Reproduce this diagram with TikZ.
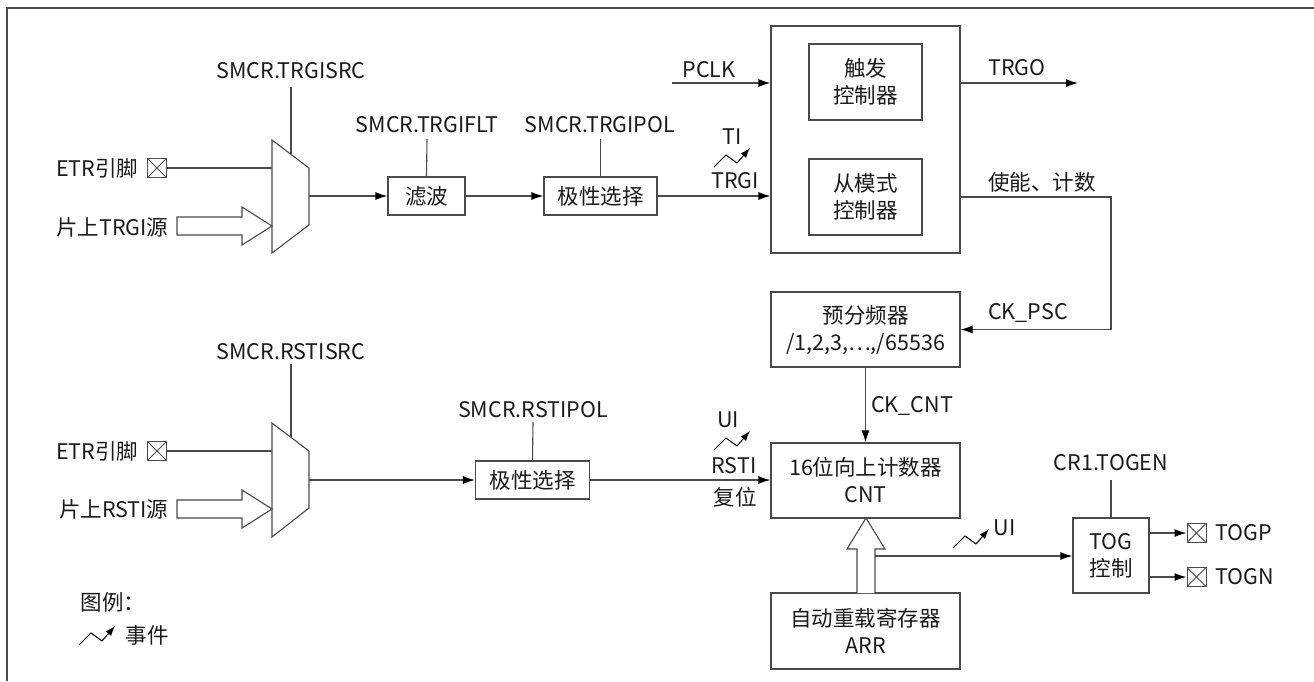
\documentclass[tikz,border=0pt]{standalone}
\usepackage{fontspec}
\setmainfont{Noto Sans CJK SC}
\usetikzlibrary{arrows.meta}
\definecolor{ln}{HTML}{4A4A4A}
\definecolor{tx}{HTML}{1A1A1A}
\begin{document}
\begin{tikzpicture}[x=1pt,y=-1pt,line width=1.1pt,
  every node/.style={font=\fontsize{21.5}{27}\selectfont,inner sep=0pt,text=tx},
  box/.style={draw=ln,line width=1.1pt,align=center},
  wire/.style={draw=ln,line width=1.1pt},
  arr/.style={wire,-{Latex[length=12pt,width=8pt,color=black]}},
  xbox/.style={draw=ln,line width=1pt,minimum width=19pt,minimum height=19pt,
    path picture={\draw[ln,line width=0.9pt] (path picture bounding box.north west)--(path picture bounding box.south east)
      (path picture bounding box.north east)--(path picture bounding box.south west);}},
  evt/.pic={\draw[black,line width=1pt] (0,0)--(12,-12)--(23,-4);
    \draw[black,line width=1pt,-{Latex[length=10pt,width=7pt]}] (23,-4)--(36,-19);}
]
\useasboundingbox (0,0) rectangle (1314,681);
% frame
\draw[ln,line width=1.3pt] (7,681)--(7,8)--(1314,8);

% ---------- top mux ----------
\coordinate (m1a) at (272,140); \coordinate (m1b) at (309,168);
\coordinate (m1c) at (309,225); \coordinate (m1d) at (272,253);
\draw[wire] (m1a)--(m1b)--(m1c)--(m1d)--cycle;
\coordinate (m1out) at (309,196);
\node (trgisrc) at (291,71) {SMCR.TRGISRC};
\coordinate (trgisrcE) at (291,154.4);
\draw[wire] (291,87)--(trgisrcE);

\node[anchor=east] (etr1) at (139,168) {ETR引脚};
\node[xbox] (x1) at (157,168) {};
\draw[wire] (x1.east)--(272,168);
\node[anchor=east] (src1) at (169,227) {片上TRGI源};
\draw[wire,fill=white] (177,217)--(242,217)--(242,207)--(272,226)--(242,245)--(242,235)--(177,235)--cycle;

% filter & polarity
\node[box,minimum width=77pt,minimum height=38pt] (flt) at (426.5,196) {滤波};
\node (trgiflt) at (427,125) {SMCR.TRGIFLT};
\draw[wire] (427,139)--(flt.north);
\node[box,minimum width=113pt,minimum height=38pt] (pol1) at (600.5,196) {极性选择};
\node (trgipol) at (600,125) {SMCR.TRGIPOL};
\draw[wire] (600.5,139)--(pol1.north);
\draw[arr] (m1out)--(flt.west);
\draw[arr] (flt.east)--(pol1.west);

% big block
\node[box,minimum width=189pt,minimum height=227pt] (big) at (865.5,139.5) {};
\node[box,minimum width=113pt,minimum height=76pt] (trg) at (865.5,82) {触发\\控制器};
\node[box,minimum width=113pt,minimum height=76pt] (slv) at (865.5,197) {从模式\\控制器};
\draw[arr] (pol1.east)--(pol1.east -| big.west);
\node (ti) at (732,137) {TI};
\node (trgi) at (735,181) {TRGI};
\pic at (714,167) {evt};
\coordinate (pclk0) at (672,83);
\draw[arr] (pclk0)--(pclk0 -| big.west);
\node (pclk) at (709,70) {PCLK};
\coordinate (trgo1) at (1078,83);
\draw[arr] (trgo1 -| big.east)--(trgo1);
\node (trgo) at (1017,68) {TRGO};

% prescaler
\node[box,minimum width=189pt,minimum height=75pt] (psc) at (865.5,329.5) {预分频器\\/1,2,3,…,/65536};
\coordinate (en0) at (960,197);
\coordinate (en1) at (1111,197);
\draw[arr] (en0)--(en1)--(en1 |- psc.east)--(psc.east);
\node (en) at (1042,182) {使能、计数};
\node (ckpsc) at (1028,313) {CK\_PSC};

% counter
\node[box,minimum width=189pt,minimum height=75pt] (cnt) at (865.5,480.5) {16位向上计数器\\CNT};
\draw[arr] (psc.south)--(cnt.north);
\node (ckcnt) at (912,406) {CK\_CNT};

% ---------- bottom mux ----------
\coordinate (m2a) at (272,423); \coordinate (m2b) at (309,451);
\coordinate (m2c) at (309,508); \coordinate (m2d) at (272,537);
\draw[wire] (m2a)--(m2b)--(m2c)--(m2d)--cycle;
\coordinate (m2out) at (309,480);
\node (rstisrc) at (291,352) {SMCR.RSTISRC};
\draw[wire] (291,364)--(291,437.4);
\node[anchor=east] (etr2) at (139,451) {ETR引脚};
\node[xbox] (x2) at (157,451) {};
\draw[wire] (x2.east)--(272,451);
\node[anchor=east] (src2) at (169,509) {片上RSTI源};
\draw[wire,fill=white] (177,500)--(242,500)--(242,490)--(272,509)--(242,528)--(242,518)--(177,518)--cycle;

\node[box,minimum width=114pt,minimum height=38pt] (pol2) at (532.5,480) {极性选择};
\node (rstipol) at (533,410) {SMCR.RSTIPOL};
\draw[wire] (533,422)--(pol2.north);
\draw[arr] (m2out)--(pol2.west);
\draw[arr] (pol2.east)--(pol2.east -| cnt.west);
\node (ui1) at (728,420) {UI};
\pic at (714,450) {evt};
\node (rsti) at (734,466) {RSTI};
\node (fw) at (735,497) {复位};

% ARR
\node[box,minimum width=189pt,minimum height=76pt] (arrb) at (865.5,631) {自动重载寄存器\\ARR};
\draw[wire,fill=white] (857,593)--(857,549)--(847,549)--(866,518)--(885,549)--(875,549)--(875,593);

% TOG
\node[box,minimum width=76pt,minimum height=75pt] (tog) at (1111,555.5) {TOG\\控制};
\node (togen) at (1111,463) {CR1.TOGEN};
\draw[wire] (1111,480)--(tog.north);
\coordinate (ui0) at (875,556);
\draw[arr] (ui0)--(ui0 -| tog.west);
\pic at (953,548) {evt};
\node[anchor=west] (ui2) at (993,528) {UI};
\node[xbox] (xp) at (1196.5,533) {};
\node[xbox] (xn) at (1196.5,577) {};
\draw[arr] (xp -| tog.east)--(xp.west);
\draw[arr] (xn -| tog.east)--(xn.west);
\node[anchor=west] (togp) at (1215,533) {TOGP};
\node[anchor=west] (togn) at (1215,577) {TOGN};

% legend
\node[anchor=west] (lg) at (80,602) {图例：};
\pic at (79,645) {evt};
\node[anchor=west] (lge) at (125,635) {事件};
\end{tikzpicture}
\end{document}
